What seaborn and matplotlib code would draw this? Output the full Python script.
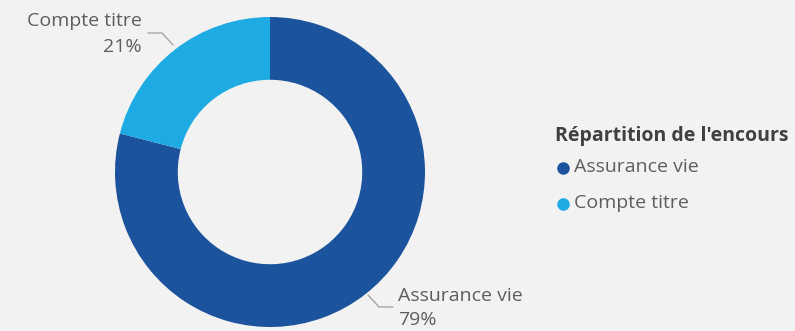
import matplotlib
matplotlib.use("Agg")
import matplotlib.pyplot as plt
from matplotlib.lines import Line2D
import seaborn as sns
import numpy as np

categories = ["Assurance vie", "Compte titre"]
values = [79, 21]
pct_labels = ["79%", "21%"]
legend_title = "Répartition de l'encours"

sns.set_theme(style="white")
plt.rcParams['font.family'] = ['Open Sans', 'DejaVu Sans']

colors = ["#1b539d", "#1eabe3"]
bg = "#f2f2f2"
txt = "#605e5c"

fig = plt.figure(figsize=(7.95, 3.31), dpi=100, facecolor=bg)
cx, cy, r = 270, 172, 155
W, H = 795, 331
ax = fig.add_axes([(cx - r) / W, (H - cy - r) / H, 2 * r / W, 2 * r / H])
ax.set_facecolor(bg)
wedges, _ = ax.pie(values, colors=colors, startangle=90, counterclock=False,
                   radius=1, wedgeprops=dict(width=0.405, edgecolor='none'))
ax.set_xlim(-1, 1)
ax.set_ylim(-1, 1)
ax.set_aspect('equal')
ax.axis('off')

def px(x, y):
    return ((x - cx) / r, (cy - y) / r)

# leader lines
for pts in ([(148, 33), (162, 33), (173, 45)], [(368, 295), (379, 307), (393, 307)]):
    xy = np.array([px(*p) for p in pts])
    ax.plot(xy[:, 0], xy[:, 1], color="#a6a6a6", lw=1, clip_on=False)

fs = 14
fig.text(142 / W, 1 - 21 / H, categories[1], ha='right', va='center', fontsize=fs, color=txt)
fig.text(142 / W, 1 - 47 / H, pct_labels[1], ha='right', va='center', fontsize=fs, color=txt)
fig.text(398 / W, 1 - 296 / H, categories[0], ha='left', va='center', fontsize=fs, color=txt)
fig.text(398 / W, 1 - 320 / H, pct_labels[0], ha='left', va='center', fontsize=fs, color=txt)

# legend
fig.text(555 / W, 1 - 136 / H, legend_title, ha='left', va='center', fontsize=14,
         fontweight='bold', color="#404040")
for i, (cat, col) in enumerate(zip(categories, colors)):
    y = 168 + i * 36
    fig.add_artist(Line2D([563 / W], [1 - y / H], marker='o', markersize=8,
                          color=col, linestyle='none', transform=fig.transFigure))
    fig.text(574 / W, 1 - (y - 1) / H, cat, ha='left', va='center', fontsize=fs, color=txt)

fig.savefig("out.png", dpi=100, facecolor=bg)
